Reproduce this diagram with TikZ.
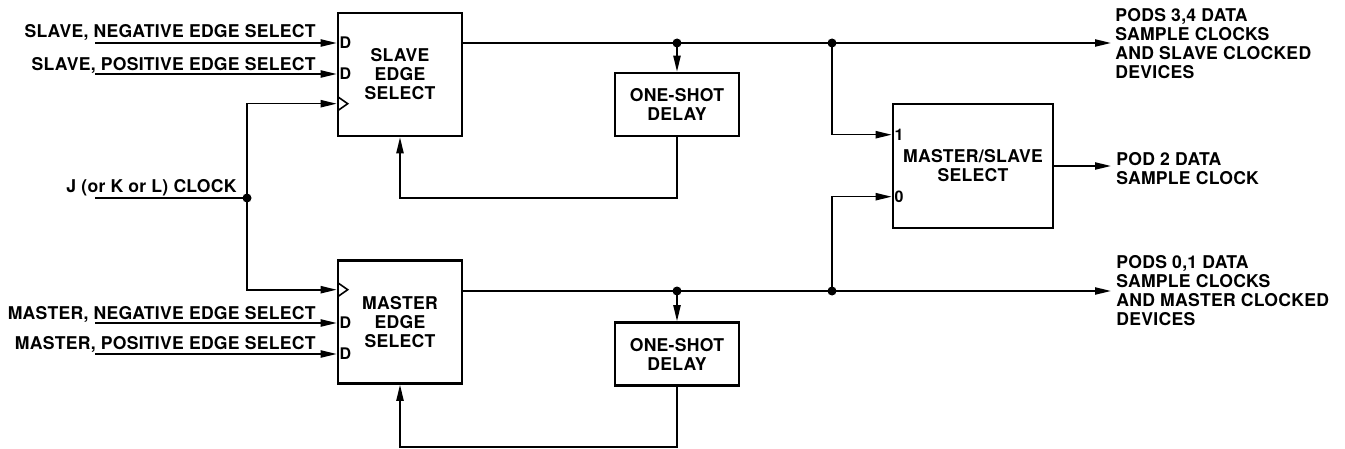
\documentclass[tikz,border=0pt]{standalone}
\usepackage{fontspec}
\setmainfont{TeX Gyre Heros}[LetterSpace=1.5]
\usepackage{tikz}
\usetikzlibrary{arrows.meta,positioning,calc}

\begin{document}
\begin{tikzpicture}[x=0.5pt,y=-0.5pt,
  font=\fontsize{8.8}{9.5}\selectfont\bfseries,
  blk/.style={draw,line width=1.3pt,minimum width=62pt,minimum height=61.5pt,align=center,inner sep=0pt},
  dly/.style={draw,line width=1.3pt,minimum width=62pt,minimum height=31.5pt,align=center,inner sep=0pt},
  mux/.style={draw,line width=1.3pt,minimum width=80pt,minimum height=62pt,align=center,inner sep=0pt},
  lbl/.style={inner sep=0pt,align=left},
  pin/.style={inner sep=1pt,font=\fontsize{8}{9}\selectfont\bfseries},
  wire/.style={line width=0.8pt},
  arr/.style={wire,-{Triangle[length=8pt,width=3.6pt]}},
  dot/.style={circle,fill,inner sep=0pt,minimum size=4.5pt}
]
\useasboundingbox (0,0) rectangle (1345,449);

\node[blk] (slave) at (400,74.5) {SLAVE\\EDGE\\SELECT};
\node[blk] (master) at (400,322) {MASTER\\EDGE\\SELECT};
\node[dly] (dlyS) at (677,104.5) {ONE-SHOT\\DELAY};
\node[dly] (dlyM) at (677,354) {ONE-SHOT\\DELAY};
\node[mux] (sel) at (973,166) {MASTER/SLAVE\\SELECT};

\coordinate (sNeg) at (95,43);
\coordinate (sPos) at (95,74);
\coordinate (mNeg) at (95,323);
\coordinate (mPos) at (95,354);
\coordinate (clkIn) at (95,198);
\coordinate (clkJ) at (247,198);

\node[lbl,anchor=base east] (sNegL) at (316,37.5) {SLAVE, NEGATIVE EDGE SELECT};
\node[lbl,anchor=base east] (sPosL) at (316,70.5) {SLAVE, POSITIVE EDGE SELECT};
\node[lbl,anchor=base east] (mNegL) at (316,319) {MASTER, NEGATIVE EDGE SELECT};
\node[lbl,anchor=base east] (mPosL) at (316,349.5) {MASTER, POSITIVE EDGE SELECT};
\node[lbl,anchor=base east] (clkL) at (237,192) {J (or K or L) CLOCK};

\draw[arr] (sNeg) -- (slave.west |- sNeg) node[pin,anchor=west] (sNegD) {D};
\draw[arr] (sPos) -- (slave.west |- sPos) node[pin,anchor=west] (sPosD) {D};
\draw[arr] (mNeg) -- (master.west |- mNeg) node[pin,anchor=west] (mNegD) {D};
\draw[arr] (mPos) -- (master.west |- mPos) node[pin,anchor=west] (mPosD) {D};

\draw[wire] (clkIn) -- (clkJ);
\draw[arr] (clkJ) |- ($(slave.north west)+(0,92)$);
\draw[arr] (clkJ) |- ($(master.north west)+(0,30.5)$);
\draw[wire] ($(slave.north west)+(1,85)$) -- ++(10,7) -- ++(-10,7);
\draw[wire] ($(master.north west)+(1,23.5)$) -- ++(10,7) -- ++(-10,7);

\coordinate (jS1) at (677,43);
\coordinate (jS2) at (832,43);
\coordinate (outS) at (1111,43);
\coordinate (jM1) at (677,291);
\coordinate (jM2) at (832,291);
\coordinate (outM) at (1111,291);
\coordinate (outP) at (1111,166);
\coordinate (fbM) at (400,447);

\draw[arr] (slave.east |- sNeg) -- (outS);
\draw[arr] (jS1) -- (dlyS.north);
\draw[arr] (dlyS.south) |- (slave.south |- clkJ) -- (slave.south);
\draw[arr] (jS2) |- ($(sel.north west)+(0,32)$) node[pin,anchor=west] (sel1) {1};

\draw[arr] (master.east |- jM1) -- (outM);
\draw[arr] (jM1) -- (dlyM.north);
\draw[arr] (dlyM.south) |- (fbM) -- (master.south);
\draw[arr] (jM2) |- ($(sel.north west)+(0,94)$) node[pin,anchor=west] (sel0) {0};

\draw[arr] (sel.east) -- (outP);

\node[dot] (dClk) at (clkJ) {};
\node[dot] (dS1) at (jS1) {};
\node[dot] (dS2) at (jS2) {};
\node[dot] (dM1) at (jM1) {};
\node[dot] (dM2) at (jM2) {};

\node[lbl,anchor=north west] (podsS) at (1115,8) {PODS 3,4 DATA\\SAMPLE CLOCKS\\AND SLAVE CLOCKED\\DEVICES};
\node[lbl,anchor=north west] (pod2) at (1116,152) {POD 2 DATA\\SAMPLE CLOCK};
\node[lbl,anchor=north west] (podsM) at (1116,255) {PODS 0,1 DATA\\SAMPLE CLOCKS\\AND MASTER CLOCKED\\DEVICES};
\end{tikzpicture}
\end{document}
